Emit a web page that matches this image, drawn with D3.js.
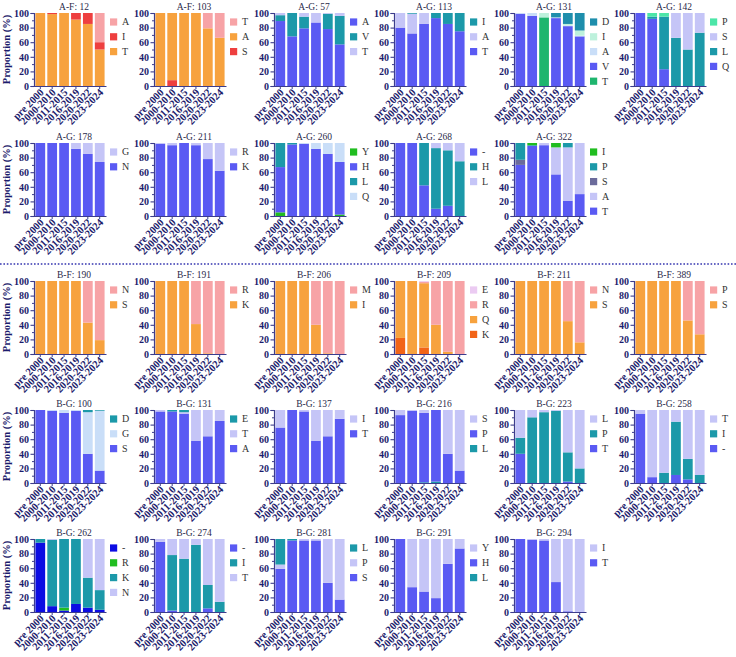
<!DOCTYPE html>
<html><head><meta charset="utf-8">
<script src="https://cdn.jsdelivr.net/npm/d3@7"></script>
<style>body{margin:0;background:#fff}svg{display:block}</style>
</head><body><svg id="c" width="736" height="657"></svg>
<script>
// ---------- DATA ----------
const periods = ["pre 2000","2000-2010","2011-2015","2016-2019","2020-2022","2023-2024"];
const yTicks = [0,20,40,60,80,100];

// each panel: series listed bottom -> top of the stack; legend = order shown in legend
const AF12  = {title:"A-F: 12", legend:["A","I","T"], series:{T:[100,98.5,100,91,85,50], I:[0,1.5,0,9,15,10], A:[0,0,0,0,0,40]}};
const AF103 = {title:"A-F: 103", legend:["T","A","S"], series:{S:[0,8,0,0,0,0], A:[100,92,100,100,79,66], T:[0,0,0,0,21,34]}};
const AG57  = {title:"A-G: 57", legend:["A","V","T"], series:{A:[89,68,79,87,78,57], V:[8,32,16,0,21,39], T:[3,0,5,13,1,4]}};
const AG113 = {title:"A-G: 113", legend:["I","A","T"], series:{T:[80,72,85,93,85,75], A:[20,27,15,0,0,0], I:[0,1,0,7,15,25]}};
const AG131 = {title:"A-G: 131", legend:["D","I","A","V","T"], series:{T:[0,0,94,0,0,0], V:[99,96,0,93,82,68], A:[1,4,0,1,1,1], I:[0,0,6,0,2,7], D:[0,0,0,6,15,24]}};
const AG142 = {title:"A-G: 142", legend:["P","S","L","Q"], series:{Q:[100,92,23,0,0,0], L:[0,3,72,66,50,73], S:[0,0,0,34,50,27], P:[0,5,5,0,0,0]}};
const AG178 = {title:"A-G: 178", legend:["G","N"], series:{N:[100,100,100,92,85,74], G:[0,0,0,8,15,26]}};
const AG211 = {title:"A-G: 211", legend:["R","K"], series:{K:[99,97,100,97,78,62], R:[1,3,0,3,22,38]}};
const AG260 = {title:"A-G: 260", legend:["Y","H","L","Q"], series:{Y:[5,0,0,0,0,2], H:[62,98,99,92,85,72], L:[33,2,0,0,0,0], Q:[0,0,1,8,15,26]}};
const AG268 = {title:"A-G: 268", legend:["-","H","L"], series:{"-":[100,100,42,10,14,0], H:[0,0,58,83,76,75], L:[0,0,0,7,10,25]}};
const AG322 = {title:"A-G: 322", legend:["I","P","S","A","T"], series:{T:[70,96,97,57,21,30], A:[0,0,3,37,73,70], S:[7,0,0,0,0,0], P:[23,1,0,0,6,0], I:[0,3,0,6,0,0]}};

const BF190 = {title:"B-F: 190", legend:["N","S"], series:{S:[100,100,100,100,43,19], N:[0,0,0,0,57,81]}};
const BF191 = {title:"B-F: 191", legend:["R","K"], series:{K:[100,100,100,41,1,0], R:[0,0,0,59,99,100]}};
const BF206 = {title:"B-F: 206", legend:["M","I"], series:{I:[100,100,100,40,1,0], M:[0,0,0,60,99,100]}};
const BF209 = {title:"B-F: 209", legend:["E","R","Q","K"], series:{K:[22,0,9,0,0,0], Q:[78,100,88,40,3,0], R:[0,0,2,60,97,100], E:[0,0,1,0,0,0]}};
const BF211 = {title:"B-F: 211", legend:["N","S"], series:{S:[100,100,100,100,45,16], N:[0,0,0,0,55,84]}};
const BF389 = {title:"B-F: 389", legend:["P","S"], series:{S:[100,100,100,100,46,27], P:[0,0,0,0,54,73]}};

const BG100 = {title:"B-G: 100", legend:["D","G","S"], series:{S:[100,99,96,99,40,17], G:[0,1,4,1,57,82], D:[0,0,0,0,3,1]}};
const BG131 = {title:"B-G: 131", legend:["E","T","A"], series:{A:[98,98,95,58,64,85], T:[2,0,2,42,36,15], E:[0,2,3,0,0,0]}};
const BG137 = {title:"B-G: 137", legend:["I","T"], series:{T:[76,100,98,58,64,88], I:[24,0,2,42,36,12]}};
const BG216 = {title:"B-G: 216", legend:["S","P","L"], series:{L:[0,0,1,2,0,0], P:[93,99,95,98,40,17], S:[7,1,4,0,60,83]}};
const BG223 = {title:"B-G: 223", legend:["L","P","T"], series:{T:[40,0,0,0,2,0], P:[22,90,97,99,40,20], L:[38,10,3,1,58,80]}};
const BG258 = {title:"B-G: 258", legend:["T","I","-"], series:{"-":[95,8,0,11,5,0], I:[0,0,14,73,28,11], T:[5,92,86,16,67,89]}};
const BG262 = {title:"B-G: 262", legend:["-","R","K","N"], series:{"-":[95,8,2,11,6,3], R:[0,0,4,0,0,0], K:[5,91,94,89,41,27], N:[0,1,0,0,53,70]}};
const BG274 = {title:"B-G: 274", legend:["-","I","T"], series:{"-":[96,2,0,0,5,0], I:[0,76,73,92,32,14], T:[4,22,27,8,63,86]}};
const BG281 = {title:"B-G: 281", legend:["L","P","S"], series:{S:[59,98,98,98,40,17], P:[6,0,2,2,60,83], L:[35,2,0,0,0,0]}};
const BG291 = {title:"B-G: 291", legend:["Y","H","L"], series:{L:[0,0,0,0,0,0], H:[100,34,28,19,66,87], Y:[0,66,72,81,34,13]}};
const BG294 = {title:"B-G: 294", legend:["I","T"], series:{T:[100,99,98,41,1,0], I:[0,1,2,59,99,100]}};

const gridRows = [
  [AF12, AF103, AG57, AG113, AG131, AG142],
  [AG178, AG211, AG260, AG268, AG322],
  [BF190, BF191, BF206, BF209, BF211, BF389],
  [BG100, BG131, BG137, BG216, BG223, BG258],
  [BG262, BG274, BG281, BG291, BG294]
];

// ---------- STYLES ----------
const C = {
  ORANGE:"#F7A23E", PINK:"#F7A3A6", RED:"#EE3F3F", DKORANGE:"#F26418", LILAC:"#EBCBF2",
  BLUE:"#5A5AF3", TEAL:"#1C99A9", LAV:"#C5C5F7", LTBLUE:"#C9DEF8", MINT:"#BDF1DC",
  GREEN:"#1EB56E", PMINT:"#4CE6A8", BGREEN:"#20BD20", SLATE:"#6B6B9B", DBLUE:"#0C0CE3", DTEAL:"#1E8EAC"
};
const panelColors = {
  "A-F: 12":{A:C.PINK,I:C.RED,T:C.ORANGE},
  "A-F: 103":{T:C.PINK,A:C.ORANGE,S:C.RED},
  "A-G: 57":{A:C.BLUE,V:C.TEAL,T:C.LAV},
  "A-G: 113":{I:C.TEAL,A:C.LAV,T:C.BLUE},
  "A-G: 131":{D:C.DTEAL,I:C.MINT,A:C.LTBLUE,V:C.BLUE,T:C.GREEN},
  "A-G: 142":{P:C.PMINT,S:C.LAV,L:C.TEAL,Q:C.BLUE},
  "A-G: 178":{G:C.LAV,N:C.BLUE},
  "A-G: 211":{R:C.LAV,K:C.BLUE},
  "A-G: 260":{Y:C.BGREEN,H:C.BLUE,L:C.TEAL,Q:C.LTBLUE},
  "A-G: 268":{"-":C.BLUE,H:C.TEAL,L:C.LAV},
  "A-G: 322":{I:C.BGREEN,P:C.TEAL,S:C.SLATE,A:C.LAV,T:C.BLUE},
  "B-F: 190":{N:C.PINK,S:C.ORANGE},
  "B-F: 191":{R:C.PINK,K:C.ORANGE},
  "B-F: 206":{M:C.PINK,I:C.ORANGE},
  "B-F: 209":{E:C.LILAC,R:C.PINK,Q:C.ORANGE,K:C.DKORANGE},
  "B-F: 211":{N:C.PINK,S:C.ORANGE},
  "B-F: 389":{P:C.PINK,S:C.ORANGE},
  "B-G: 100":{D:C.TEAL,G:C.LTBLUE,S:C.BLUE},
  "B-G: 131":{E:C.TEAL,T:C.LAV,A:C.BLUE},
  "B-G: 137":{I:C.LAV,T:C.BLUE},
  "B-G: 216":{S:C.LAV,P:C.BLUE,L:C.TEAL},
  "B-G: 223":{L:C.LAV,P:C.TEAL,T:C.BLUE},
  "B-G: 258":{T:C.LAV,I:C.TEAL,"-":C.BLUE},
  "B-G: 262":{"-":C.DBLUE,R:C.BGREEN,K:C.TEAL,N:C.LAV},
  "B-G: 274":{"-":C.BLUE,I:C.TEAL,T:C.LAV},
  "B-G: 281":{L:C.TEAL,P:C.LAV,S:C.BLUE},
  "B-G: 291":{Y:C.LAV,H:C.BLUE,L:C.TEAL},
  "B-G: 294":{I:C.LAV,T:C.BLUE}
};

const NAVY = "#1c1c6c", AXIS = "#3c3c8c", FONT = "'Liberation Serif','Times New Roman',serif";
const rowTops = [13, 143, 281, 410, 539];
const colX = [34, 154, 274, 394, 514, 634];
const PW = 72, PH = 73;

const svg = d3.select("#c");
svg.append("rect").attr("width",736).attr("height",657).attr("fill","#fff");

// separator
svg.append("line").attr("x1",0).attr("x2",736).attr("y1",264).attr("y2",264)
  .attr("stroke","#3535b0").attr("stroke-width",1.6).attr("stroke-dasharray","1.6,1.8");

gridRows.forEach((row, r) => {
  row.forEach((p, c) => {
    const x0 = colX[c], y0 = rowTops[r];
    const g = svg.append("g");
    const x = d3.scaleBand().domain(periods).range([x0, x0 + PW]).paddingInner(0.18).paddingOuter(0.12);
    const y = d3.scaleLinear().domain([0, 100]).range([y0 + PH, y0]);
    const keys = Object.keys(p.series);
    const tbl = periods.map((per, i) => { const o = {period: per}; keys.forEach(k => o[k] = p.series[k][i]); return o; });
    const stacked = d3.stack().keys(keys)(tbl);
    const cols = panelColors[p.title];

    stacked.forEach(s => {
      g.append("g").attr("fill", cols[s.key]).selectAll("rect").data(s).join("rect")
        .attr("x", d => x(d.data.period)).attr("width", x.bandwidth())
        .attr("y", d => y(d[1])).attr("height", d => Math.max(0, y(d[0]) - y(d[1])));
    });

    // y axis
    const ya = g.append("g").attr("transform", `translate(${x0},0)`)
      .call(d3.axisLeft(y).tickValues(yTicks).tickSize(3.5).tickPadding(1.5));
    g.append("g").attr("transform", `translate(${x0},0)`)
      .call(d3.axisLeft(y).tickValues([10,30,50,70,90]).tickSize(2).tickFormat(""))
      .call(a => a.select(".domain").remove())
      .selectAll("line").attr("stroke", AXIS);
    ya.select(".domain").attr("stroke", AXIS).attr("stroke-width", 1.2);
    ya.selectAll("line").attr("stroke", AXIS).attr("stroke-width", 1.1);
    ya.selectAll("text").attr("fill", NAVY).attr("font-family", FONT).attr("font-weight", "bold").attr("font-size", 10);

    // x axis
    const xa = g.append("g").attr("transform", `translate(0,${y0 + PH})`)
      .call(d3.axisBottom(x).tickSize(3).tickSizeOuter(0));
    xa.select(".domain").attr("stroke", AXIS).attr("stroke-width", 1.2);
    xa.selectAll("line").attr("stroke", AXIS);
    xa.selectAll("text").attr("fill", NAVY).attr("font-family", FONT).attr("font-weight", "bold").attr("font-size", 10.5)
      .attr("text-anchor", "end").attr("dy", 0).attr("y", 4)
      .attr("transform", "rotate(-45) translate(-2,4)");

    // title
    g.append("text").attr("x", x0 + 40).attr("y", y0 - 3).attr("text-anchor", "middle")
      .attr("font-family", FONT).attr("font-size", 9.5).attr("fill", "#2a2a4a").text(p.title);

    // legend
    p.legend.forEach((k, i) => {
      const ly = y0 + 9 + i * 14.8;
      g.append("rect").attr("x", x0 + 76).attr("y", ly - 3.6).attr("width", 7.2).attr("height", 7.2).attr("fill", cols[k]);
      g.append("text").attr("x", x0 + 88).attr("y", ly + 3.4).attr("font-family", FONT).attr("font-size", 10)
        .attr("fill", "#333").text(k);
    });

    if (c === 0) {
      g.append("text").attr("transform", `translate(10,${y0 + PH / 2}) rotate(-90)`).attr("text-anchor", "middle")
        .attr("font-family", FONT).attr("font-weight", "bold").attr("font-size", 10.5).attr("fill", NAVY).text("Proportion (%)");
    }
  });
});
</script></body></html>
